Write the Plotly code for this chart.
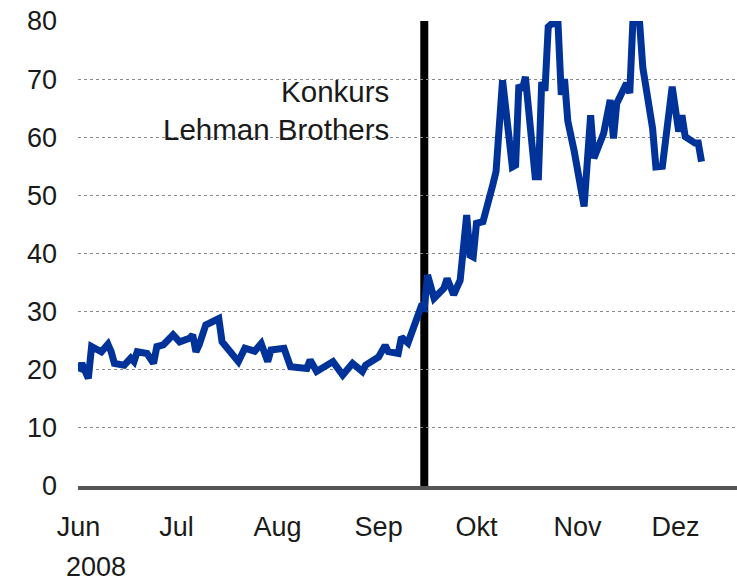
import plotly.graph_objects as go

dates = [
    "2008-06-01", "2008-06-02", "2008-06-04", "2008-06-05", "2008-06-08", "2008-06-10",
    "2008-06-11", "2008-06-12", "2008-06-15", "2008-06-17", "2008-06-18", "2008-06-19",
    "2008-06-22", "2008-06-24", "2008-06-25", "2008-06-27", "2008-06-30", "2008-07-02",
    "2008-07-05", "2008-07-06", "2008-07-07", "2008-07-08", "2008-07-10", "2008-07-12",
    "2008-07-14", "2008-07-15", "2008-07-17", "2008-07-20", "2008-07-22", "2008-07-25",
    "2008-07-27", "2008-07-29", "2008-07-30", "2008-08-03", "2008-08-05", "2008-08-10",
    "2008-08-11", "2008-08-13", "2008-08-18", "2008-08-21", "2008-08-24", "2008-08-27",
    "2008-08-28", "2008-09-01", "2008-09-03", "2008-09-04", "2008-09-07", "2008-09-08",
    "2008-09-10", "2008-09-13", "2008-09-14", "2008-09-15", "2008-09-16", "2008-09-18",
    "2008-09-21", "2008-09-22", "2008-09-24", "2008-09-26", "2008-09-28", "2008-09-29",
    "2008-09-30", "2008-10-01", "2008-10-03", "2008-10-06", "2008-10-07", "2008-10-09",
    "2008-10-12", "2008-10-13", "2008-10-14", "2008-10-15", "2008-10-16", "2008-10-19",
    "2008-10-20", "2008-10-21", "2008-10-22", "2008-10-23", "2008-10-24", "2008-10-26",
    "2008-10-27", "2008-10-28", "2008-10-29", "2008-10-31", "2008-11-01", "2008-11-03",
    "2008-11-05", "2008-11-06", "2008-11-09", "2008-11-11", "2008-11-12", "2008-11-13",
    "2008-11-16", "2008-11-17", "2008-11-18", "2008-11-19", "2008-11-20", "2008-11-21",
    "2008-11-24", "2008-11-25", "2008-11-27", "2008-11-30", "2008-12-02", "2008-12-03",
    "2008-12-04", "2008-12-07", "2008-12-08", "2008-12-09",
]
values = [
    19.7, 21.1, 18.5, 24.0, 23.1, 24.4,
    23.1, 21.1, 20.8, 22.0, 21.4, 23.1,
    22.8, 21.1, 24.0, 24.3, 26.0, 24.8,
    25.4, 26.0, 23.1, 24.3, 27.7, 28.3,
    28.8, 24.8, 23.5, 21.4, 23.7, 23.2,
    24.5, 21.4, 23.4, 23.7, 20.5, 20.2,
    21.7, 19.7, 21.4, 19.1, 21.1, 19.7,
    20.8, 22.2, 24.2, 23.1, 22.8, 25.6,
    24.6, 28.8, 30.8, 30.6, 36.3, 32.3,
    34.0, 35.7, 32.9, 35.4, 46.6, 39.7,
    39.4, 45.2, 45.5, 51.8, 54.1, 69.8,
    54.9, 55.2, 69.0, 68.1, 70.4, 53.2,
    53.2, 69.5, 68.0, 79.0, 79.5, 79.6,
    67.3, 70.0, 62.8, 57.5, 54.1, 48.1,
    63.8, 56.4, 60.7, 66.4, 59.8, 65.8,
    69.3, 67.6, 80.5, 81.0, 79.8, 72.0,
    61.5, 54.9, 55.0, 68.7, 61.0, 63.8,
    60.1, 59.0, 59.0, 55.8,
]

month_ticks = ["2008-06-01", "2008-07-01", "2008-08-01", "2008-09-01",
               "2008-10-01", "2008-11-01", "2008-12-01"]
month_labels = ["Jun", "Jul", "Aug", "Sep", "Okt", "Nov", "Dez"]
y_ticks = [0, 10, 20, 30, 40, 50, 60, 70, 80]
year_label = "2008"
event_date = "2008-09-15"
event_text = "Konkurs<br>Lehman Brothers"

FONT = "Liberation Sans, Arial, sans-serif"
W, H = 737, 583
L, R, T, B = 78, 0, 21, 97
plot_w, plot_h = W - L - R, H - T - B

fig = go.Figure()
fig.add_trace(go.Scatter(
    x=dates, y=values, mode="lines",
    line=dict(color="#003399", width=7),
    hoverinfo="skip", showlegend=False,
))

fig.add_shape(type="line", xref="x", yref="paper",
              x0=event_date, x1=event_date, y0=0, y1=1,
              line=dict(color="black", width=8), layer="below")

fig.add_annotation(x=event_date, y=71.1, xref="x", yref="y",
                   text=event_text, showarrow=False,
                   xanchor="right", yanchor="top", align="right",
                   xshift=-33, font=dict(family=FONT, size=29.5, color="#1a1a1a"))

fig.add_annotation(x=(96 - L) / plot_w, y=(H - B - 567) / plot_h,
                   xref="paper", yref="paper",
                   text=year_label, showarrow=False,
                   xanchor="center", yanchor="middle",
                   font=dict(family=FONT, size=27, color="#1a1a1a"))

fig.update_layout(
    width=W, height=H,
    margin=dict(l=L, r=R, t=T, b=B, autoexpand=False),
    paper_bgcolor="white", plot_bgcolor="white",
    font=dict(family=FONT, size=27, color="#1a1a1a"),
    xaxis=dict(
        type="date",
        range=["2008-05-31 20:00", "2008-12-19 21:00"],
        tickmode="array", tickvals=month_ticks, ticktext=month_labels,
        showgrid=False, zeroline=False, automargin=False,
        showline=True, linecolor="#555555", linewidth=4,
        ticks="", ticklabelstandoff=14,
        tickfont=dict(family=FONT, size=27, color="#1a1a1a"),
    ),
    yaxis=dict(
        range=[0, 80], automargin=False,
        tickmode="array", tickvals=y_ticks,
        showgrid=True, gridcolor="#8a8a8a", gridwidth=1, griddash="dot",
        zeroline=False, showline=False,
        ticks="", ticklabelstandoff=20,
        tickfont=dict(family=FONT, size=27, color="#1a1a1a"),
    ),
)

fig.write_html("out.html",
               config={"displayModeBar": False},
               post_script="document.body.style.margin='0px';document.body.style.overflow='hidden';")
